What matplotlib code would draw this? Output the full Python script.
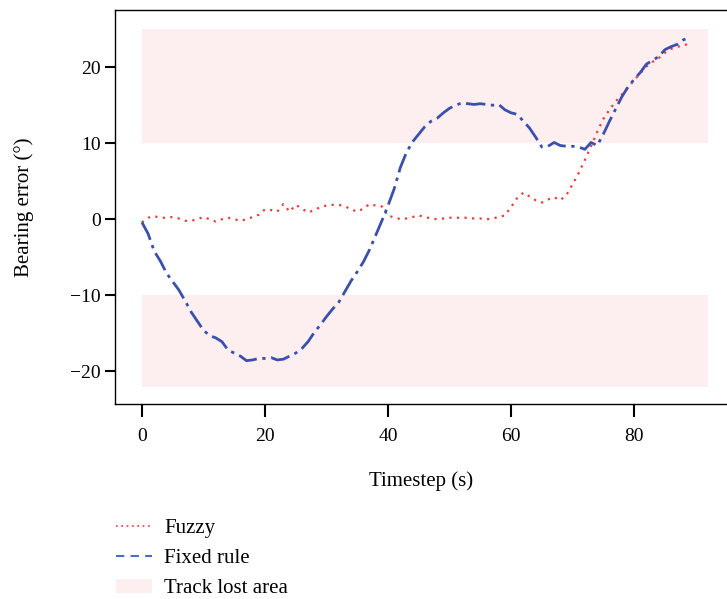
import matplotlib
matplotlib.use("Agg")
import matplotlib.pyplot as plt
import numpy as np
from matplotlib.lines import Line2D
from matplotlib.patches import Patch

plt.rcParams['font.family'] = ['Liberation Serif', 'DejaVu Serif']

timestep = np.arange(0, 90)

fuzzy = [-0.4, 0.2, 0.4, 0.2, 0.2, 0.3, 0.1, -0.2, -0.2, 0.0,
         0.3, 0.0, -0.3, 0.0, 0.2, 0.0, -0.2, 0.0, 0.3, 0.6,
         1.3, 1.2, 1.0, 2.0, 1.0, 1.9, 1.4, 0.9, 1.2, 1.6,
         1.8, 1.9, 1.9, 1.7, 1.3, 1.0, 1.4, 2.0, 1.8, 1.7,
         0.4, 0.3, 0.0, 0.1, 0.3, 0.5, 0.3, 0.1, 0.0, 0.1,
         0.2, 0.2, 0.2, 0.2, 0.1, 0.1, 0.0, 0.1, 0.3, 0.5,
         1.6, 2.8, 3.5, 3.0, 2.5, 2.2, 2.6, 2.9, 2.5, 3.2,
         4.6, 6.1, 7.8, 9.6, 11.5, 13.2, 14.4, 15.5, 16.4, 17.3,
         18.3, 19.2, 20.1, 20.7, 21.2, 21.9, 22.4, 22.7, 22.8, 23.2]

fixed_rule = [-0.4, -1.9, -4.2, -5.5, -7.1, -8.2, -9.3, -10.7, -12.2, -13.4,
              -14.6, -15.3, -15.6, -16.1, -17.2, -17.6, -18.0, -18.6, -18.5, -18.3,
              -18.3, -18.2, -18.5, -18.4, -18.0, -17.6, -17.0, -16.1, -14.9, -13.9,
              -12.8, -11.8, -10.9, -9.5, -8.1, -6.9, -5.6, -4.0, -2.1, -0.2,
              1.8, 4.0, 6.8, 8.8, 10.2, 11.2, 12.2, 12.9, 13.3, 14.0,
              14.6, 15.0, 15.3, 15.2, 15.1, 15.2, 15.1, 15.0, 15.1, 14.4,
              14.0, 13.8, 12.9, 12.0, 10.8, 9.5, 9.6, 10.1, 9.7, 9.6,
              9.6, 9.5, 9.2, 10.1, 9.7, 11.2, 12.9, 14.5, 16.1, 17.4,
              18.4, 19.3, 20.4, 20.9, 21.4, 22.3, 22.7, 23.0, 23.6, 23.9]

# track lost bands: (low, high), x range
bands = [(10, 25), (-22, -10)]
band_x = (0, 92)

red = '#ee3b3b'
blue = '#3a50ad'
pink = '#fdefef'

fig = plt.figure(figsize=(7.27, 5.99), dpi=100)
ax = fig.add_axes([0.158, 0.3255, 0.842, 0.6575])

for lo, hi in bands:
    ax.fill_between(band_x, lo, hi, color=pink, lw=0, zorder=0)

ax.plot(timestep, fuzzy, color=red, ls=(0, (1, 2.4)), lw=1.6)
ax.plot(timestep, fixed_rule, color=blue, ls=(0, (7, 2, 1.2, 2)), lw=2.0)

ax.set_xlim(-4.4, 95.1)
ax.set_ylim(-24.3, 27.5)
ax.set_xticks([0, 20, 40, 60, 80])
ax.set_yticks([-20, -10, 0, 10, 20])
ax.set_yticklabels(['\u221220', '\u221210', '0', '10', '20'])
ax.spines['right'].set_visible(False)
for s in ['left', 'top', 'bottom']:
    ax.spines[s].set_linewidth(1.0)
ax.tick_params(axis='x', direction='out', length=9, width=1.5, labelsize=14, pad=8)
ax.tick_params(axis='y', direction='out', length=7.5, width=1.5, labelsize=14, pad=2.5)
ax.set_xlabel('Timestep (s)', fontsize=15, labelpad=19)
ax.set_ylabel('Bearing error (°)', fontsize=15, labelpad=26)

handles = [Line2D([], [], color=red, ls=(0, (1, 2.2)), lw=1.2),
           Line2D([], [], color='#4a6cc4', ls=(0, (4, 3)), lw=1.5),
           Patch(facecolor=pink, edgecolor='none')]
fig.legend(handles, ['Fuzzy', 'Fixed rule', 'Track lost area'],
           loc='upper left', bbox_to_anchor=(0.148, 0.148), frameon=False,
           fontsize=15, handlelength=1.75, handletextpad=0.58, labelspacing=0.5,
           borderaxespad=0)

fig.savefig('out.png', dpi=100)
